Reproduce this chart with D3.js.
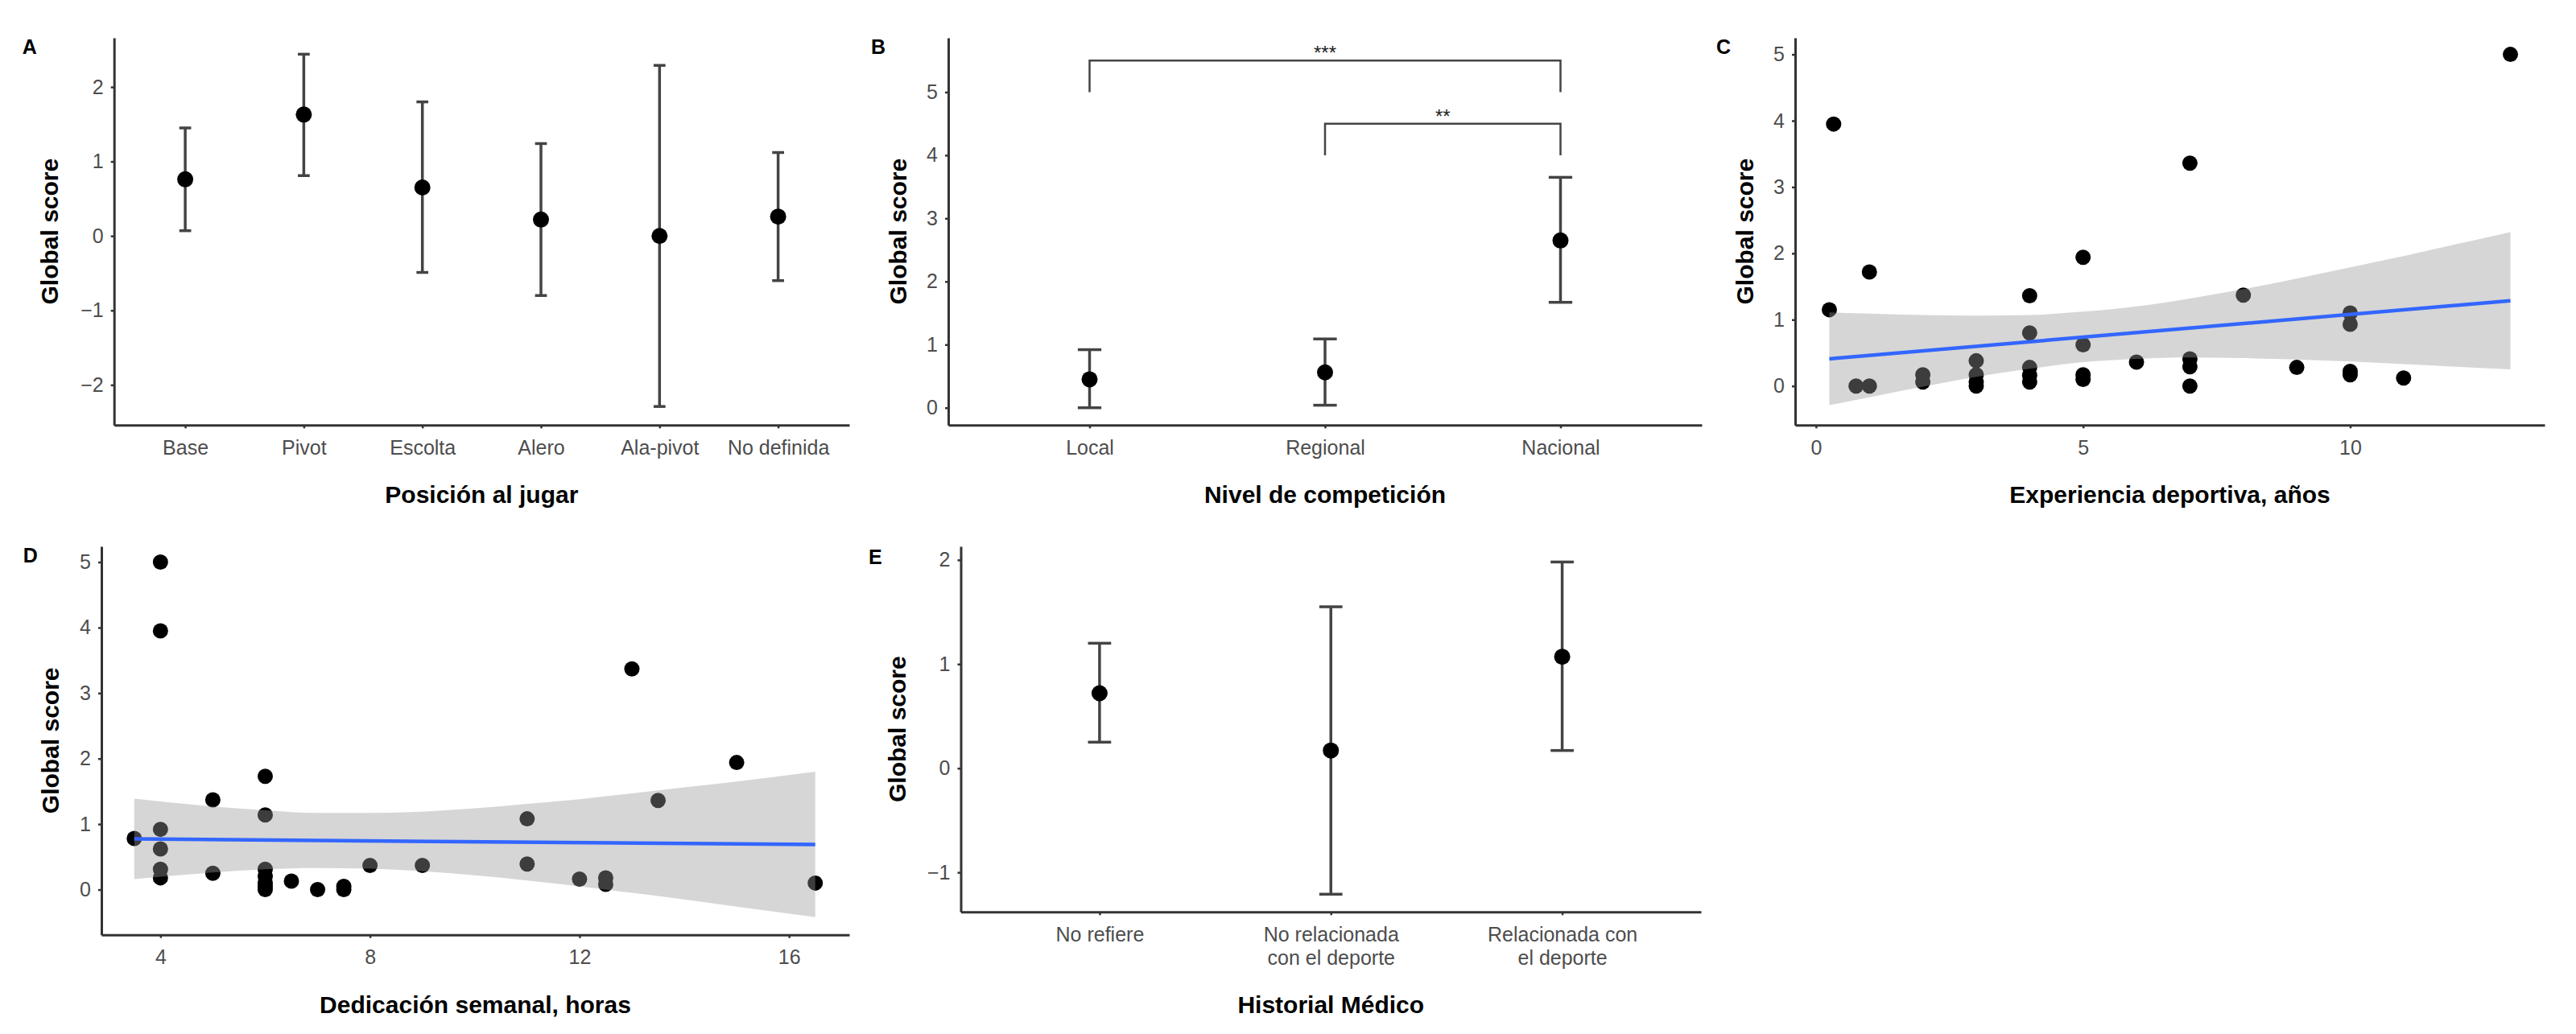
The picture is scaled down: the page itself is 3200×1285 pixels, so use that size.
<!DOCTYPE html>
<html>
<head>
<meta charset="utf-8">
<script src="https://cdn.jsdelivr.net/npm/d3@7"></script>
<style>
  html, body { margin: 0; padding: 0; background: #ffffff; }
  svg { display: block; }
  text { font-family: "Liberation Sans", Arial, sans-serif; }
</style>
</head>
<body>
<svg id="chart" width="3200" height="1285"></svg>
<script>
// ---------------- DATA ----------------
// Panel A: Posición al jugar
const posCategories = ["Base", "Pivot", "Escolta", "Alero", "Ala-pivot", "No definida"];
const posMean = [0.76, 1.63, 0.65, 0.22, 0.00, 0.26];
const posLow  = [0.07, 0.81, -0.49, -0.80, -2.29, -0.60];
const posHigh = [1.45, 2.44, 1.80, 1.24, 2.29, 1.12];
const posYTicks = [-2, -1, 0, 1, 2];

// Panel B: Nivel de competición
const levelCategories = ["Local", "Regional", "Nacional"];
const levelMean = [0.45, 0.56, 2.65];
const levelLow  = [0.00, 0.04, 1.67];
const levelHigh = [0.92, 1.09, 3.65];
const levelYTicks = [0, 1, 2, 3, 4, 5];
const sigFrom   = ["Local", "Regional"];
const sigTo     = ["Nacional", "Nacional"];
const sigTop    = [5.5, 4.5];
const sigBottom = [5.0, 4.0];
const sigLabels = ["***", "**"];

// Panel C: Experiencia deportiva, años
const expX = [0.25, 0.33, 0.75, 1, 1, 2, 2, 3, 3, 3, 3, 4, 4, 4, 4, 4, 5, 5, 5, 5, 6, 7, 7, 7, 7, 8, 9, 10, 10, 10, 10, 11, 13];
const expY = [1.15, 3.95, 0.00, 0.00, 1.72, 0.17, 0.06, 0.38, 0.17, 0.06, 0.00, 1.36, 0.80, 0.28, 0.16, 0.06, 1.94, 0.62, 0.17, 0.10, 0.36, 3.36, 0.41, 0.29, 0.00, 1.37, 0.28, 1.10, 0.93, 0.22, 0.17, 0.12, 5.00];
const expFitX = [0.25, 13];
const expFitY = [0.41, 1.285];
const expBandX    = [0.25, 1, 2, 3, 4, 5, 6, 7, 8, 9, 10, 11, 12, 13];
const expBandLow  = [-0.29, -0.17, -0.01, 0.14, 0.26, 0.36, 0.41, 0.43, 0.42, 0.40, 0.37, 0.33, 0.29, 0.25];
const expBandHigh = [1.11, 1.09, 1.07, 1.06, 1.07, 1.12, 1.20, 1.32, 1.46, 1.62, 1.79, 1.96, 2.14, 2.32];
const expXTicks = [0, 5, 10];
const expYTicks = [0, 1, 2, 3, 4, 5];

// Panel D: Dedicación semanal, horas
const dedX = [3.5, 4, 4, 4, 4, 4, 4, 5, 5, 6, 6, 6, 6, 6, 6, 6, 6.5, 7, 7.5, 7.5, 8, 9, 11, 11, 12, 12.5, 12.5, 13, 13.5, 15, 16.5];
const dedY = [0.78, 5.00, 3.95, 0.92, 0.62, 0.31, 0.18, 1.37, 0.25, 1.73, 1.14, 0.31, 0.20, 0.10, 0.05, 0.00, 0.13, 0.00, 0.05, 0.00, 0.37, 0.37, 1.08, 0.39, 0.16, 0.18, 0.08, 3.37, 1.36, 1.94, 0.10];
const dedFitX = [3.5, 16.5];
const dedFitY = [0.773, 0.688];
const dedBandX    = [3.5, 5, 6, 7, 8, 9, 10, 11, 12, 13, 14, 15, 16.5];
const dedBandLow  = [0.16, 0.26, 0.31, 0.33, 0.32, 0.28, 0.22, 0.14, 0.05, -0.05, -0.15, -0.26, -0.42];
const dedBandHigh = [1.39, 1.27, 1.21, 1.17, 1.17, 1.19, 1.24, 1.31, 1.38, 1.47, 1.56, 1.65, 1.80];
const dedXTicks = [4, 8, 12, 16];
const dedYTicks = [0, 1, 2, 3, 4, 5];

// Panel E: Historial Médico
const medCategories = ["No refiere", "No relacionada con el deporte", "Relacionada con el deporte"];
const medLabelLines = [["No refiere"], ["No relacionada", "con el deporte"], ["Relacionada con", "el deporte"]];
const medMean = [0.72, 0.17, 1.07];
const medLow  = [0.25, -1.21, 0.17];
const medHigh = [1.20, 1.55, 1.98];
const medYTicks = [-1, 0, 1, 2];

// ---------------- DRAWING ----------------
const svg = d3.select("#chart");
svg.append("rect").attr("width", 3200).attr("height", 1285).attr("fill", "#ffffff");

const AXIS_COLOR = "#333333";
const TICK_TEXT = "#4d4d4d";
const FS_TICK = 25;
const FS_TITLE = 30;
const fmt = d => (d < 0 ? "\u2212" + Math.abs(d) : String(d));

function styleAxis(g) {
  g.select(".domain").attr("stroke", AXIS_COLOR).attr("stroke-width", 3);
  g.selectAll(".tick line").attr("stroke", AXIS_COLOR).attr("stroke-width", 2.5);
  g.selectAll(".tick text").attr("fill", TICK_TEXT).attr("font-size", FS_TICK)
    .attr("font-family", "'Liberation Sans', Arial, sans-serif");
}

function drawFrame(cfg) {
  // cfg: x0,x1,y0,y1,xScale,yScale,yTicks,xTicks(optional),letter,letterPos,yTitleX,xTitle,xTitleY
  const g = svg.append("g");
  const yAxis = d3.axisLeft(cfg.yScale).tickValues(cfg.yTicks).tickFormat(fmt)
    .tickSize(4).tickSizeOuter(0).tickPadding(9);
  const ga = g.append("g").attr("transform", `translate(${cfg.x0},0)`).call(yAxis);
  styleAxis(ga);

  const xAxis = d3.axisBottom(cfg.xScale).tickSize(4).tickSizeOuter(0).tickPadding(15);
  if (cfg.xTicks) xAxis.tickValues(cfg.xTicks);
  if (cfg.xFormat) xAxis.tickFormat(cfg.xFormat);
  const gx = g.append("g").attr("transform", `translate(0,${cfg.y1})`).call(xAxis);
  styleAxis(gx);
  if (cfg.multiline) {
    gx.selectAll(".tick text").each(function(d, i) {
      const t = d3.select(this);
      t.text(null).attr("dy", null).attr("y", 36.7);
      cfg.multiline[i].forEach((line, k) => {
        t.append("tspan").attr("x", 0).attr("dy", k === 0 ? 0 : 29).text(line);
      });
    });
  }

  // panel letter
  svg.append("text").attr("x", cfg.letterPos[0]).attr("y", cfg.letterPos[1])
    .attr("text-anchor", "middle").attr("font-size", 25).attr("font-weight", "bold")
    .attr("fill", "#000").text(cfg.letter);

  // y title
  const yc = (cfg.y0 + cfg.y1) / 2;
  svg.append("text").attr("transform", `translate(${cfg.yTitleX},${yc}) rotate(-90)`)
    .attr("text-anchor", "middle").attr("font-size", FS_TITLE).attr("font-weight", "bold")
    .attr("fill", "#000").text("Global score");

  // x title
  svg.append("text").attr("x", (cfg.x0 + cfg.x1) / 2).attr("y", cfg.xTitleY)
    .attr("text-anchor", "middle").attr("font-size", FS_TITLE).attr("font-weight", "bold")
    .attr("fill", "#000").text(cfg.xTitle);
  return g;
}

function drawErrorPanel(cfg, cats, mean, lo, hi) {
  const x = d3.scalePoint().domain(cats).range([cfg.x0, cfg.x1]).padding(0.6);
  const y = d3.scaleLinear().domain(cfg.yDomain).range([cfg.y1, cfg.y0]);
  cfg.xScale = x; cfg.yScale = y;
  const g = drawFrame(cfg);
  const capHalf = x.step() * 0.05;
  const rows = cats.map((c, i) => ({c, m: mean[i], lo: lo[i], hi: hi[i]}));
  const eb = g.append("g");
  eb.selectAll("line.v").data(rows).join("line")
    .attr("x1", d => x(d.c)).attr("x2", d => x(d.c))
    .attr("y1", d => y(d.lo)).attr("y2", d => y(d.hi))
    .attr("stroke", "#444").attr("stroke-width", 3.5);
  eb.selectAll("line.t").data(rows).join("line")
    .attr("x1", d => x(d.c) - capHalf).attr("x2", d => x(d.c) + capHalf)
    .attr("y1", d => y(d.hi)).attr("y2", d => y(d.hi))
    .attr("stroke", "#444").attr("stroke-width", 3.5);
  eb.selectAll("line.b").data(rows).join("line")
    .attr("x1", d => x(d.c) - capHalf).attr("x2", d => x(d.c) + capHalf)
    .attr("y1", d => y(d.lo)).attr("y2", d => y(d.lo))
    .attr("stroke", "#444").attr("stroke-width", 3.5);
  g.append("g").selectAll("circle").data(rows).join("circle")
    .attr("cx", d => x(d.c)).attr("cy", d => y(d.m)).attr("r", 10).attr("fill", "#000");
  return {g, x, y};
}

function drawScatterPanel(cfg, px, py, fitX, fitY, bandX, bandLo, bandHi) {
  const x = d3.scaleLinear().domain(cfg.xDomain).range([cfg.x0, cfg.x1]);
  const y = d3.scaleLinear().domain(cfg.yDomain).range([cfg.y1, cfg.y0]);
  cfg.xScale = x; cfg.yScale = y;
  const g = drawFrame(cfg);
  const pts = px.map((v, i) => ({x: v, y: py[i]}));
  g.append("g").selectAll("circle").data(pts).join("circle")
    .attr("cx", d => x(d.x)).attr("cy", d => y(d.y)).attr("r", 9.5).attr("fill", "#000");
  const band = bandX.map((v, i) => ({x: v, lo: bandLo[i], hi: bandHi[i]}));
  const area = d3.area().x(d => x(d.x)).y0(d => y(d.lo)).y1(d => y(d.hi)).curve(d3.curveMonotoneX);
  g.append("path").datum(band).attr("d", area).attr("fill", "#999999").attr("fill-opacity", 0.4);
  const fit = fitX.map((v, i) => ({x: v, y: fitY[i]}));
  g.append("path").datum(fit)
    .attr("d", d3.line().x(d => x(d.x)).y(d => y(d.y)))
    .attr("stroke", "#3366FF").attr("stroke-width", 4.5).attr("fill", "none");
  return {g, x, y};
}

// Panel A
drawErrorPanel({
  x0: 141.7, x1: 1055, y0: 47, y1: 528.3, yDomain: [-2.54, 2.66], yTicks: posYTicks,
  letter: "A", letterPos: [36.7, 66.5], yTitleX: 71.7,
  xTitle: "Posición al jugar", xTitleY: 625
}, posCategories, posMean, posLow, posHigh);

// Panel B
const pB = drawErrorPanel({
  x0: 1178, x1: 2114, y0: 47, y1: 528.3, yDomain: [-0.275, 5.86], yTicks: levelYTicks,
  letter: "B", letterPos: [1091, 66.5], yTitleX: 1126,
  xTitle: "Nivel de competición", xTitleY: 625
}, levelCategories, levelMean, levelLow, levelHigh);

const sig = sigLabels.map((lab, i) => ({a: sigFrom[i], b: sigTo[i], top: sigTop[i], bot: sigBottom[i], lab}));
const sg = pB.g.append("g");
sg.selectAll("path").data(sig).join("path")
  .attr("d", d => `M${pB.x(d.a)},${pB.y(d.bot)}V${pB.y(d.top)}H${pB.x(d.b)}V${pB.y(d.bot)}`)
  .attr("fill", "none").attr("stroke", "#444").attr("stroke-width", 2.5);
sg.selectAll("text").data(sig).join("text")
  .attr("x", d => (pB.x(d.a) + pB.x(d.b)) / 2).attr("y", d => pB.y(d.top) - 1)
  .attr("text-anchor", "middle").attr("font-size", 24).attr("fill", "#222").text(d => d.lab);

// Panel C
drawScatterPanel({
  x0: 2230, x1: 3161, y0: 47, y1: 528.3, xDomain: [-0.39, 13.64], yDomain: [-0.59, 5.25],
  xTicks: expXTicks, yTicks: expYTicks,
  letter: "C", letterPos: [2141, 66.5], yTitleX: 2178,
  xTitle: "Experiencia deportiva, años", xTitleY: 625
}, expX, expY, expFitX, expFitY, expBandX, expBandLow, expBandHigh);

// Panel D
drawScatterPanel({
  x0: 126, x1: 1055, y0: 679, y1: 1161.7, xDomain: [2.873, 17.15], yDomain: [-0.69, 5.24],
  xTicks: dedXTicks, yTicks: dedYTicks,
  letter: "D", letterPos: [37.7, 698.5], yTitleX: 72.7,
  xTitle: "Dedicación semanal, horas", xTitleY: 1259
}, dedX, dedY, dedFitX, dedFitY, dedBandX, dedBandLow, dedBandHigh);

// Panel E
drawErrorPanel({
  x0: 1193.5, x1: 2113, y0: 679, y1: 1133.3, yDomain: [-1.38, 2.13], yTicks: medYTicks,
  multiline: medLabelLines,
  letter: "E", letterPos: [1087.4, 700.5], yTitleX: 1124.5,
  xTitle: "Historial Médico", xTitleY: 1259
}, medCategories, medMean, medLow, medHigh);
</script>
</body>
</html>
